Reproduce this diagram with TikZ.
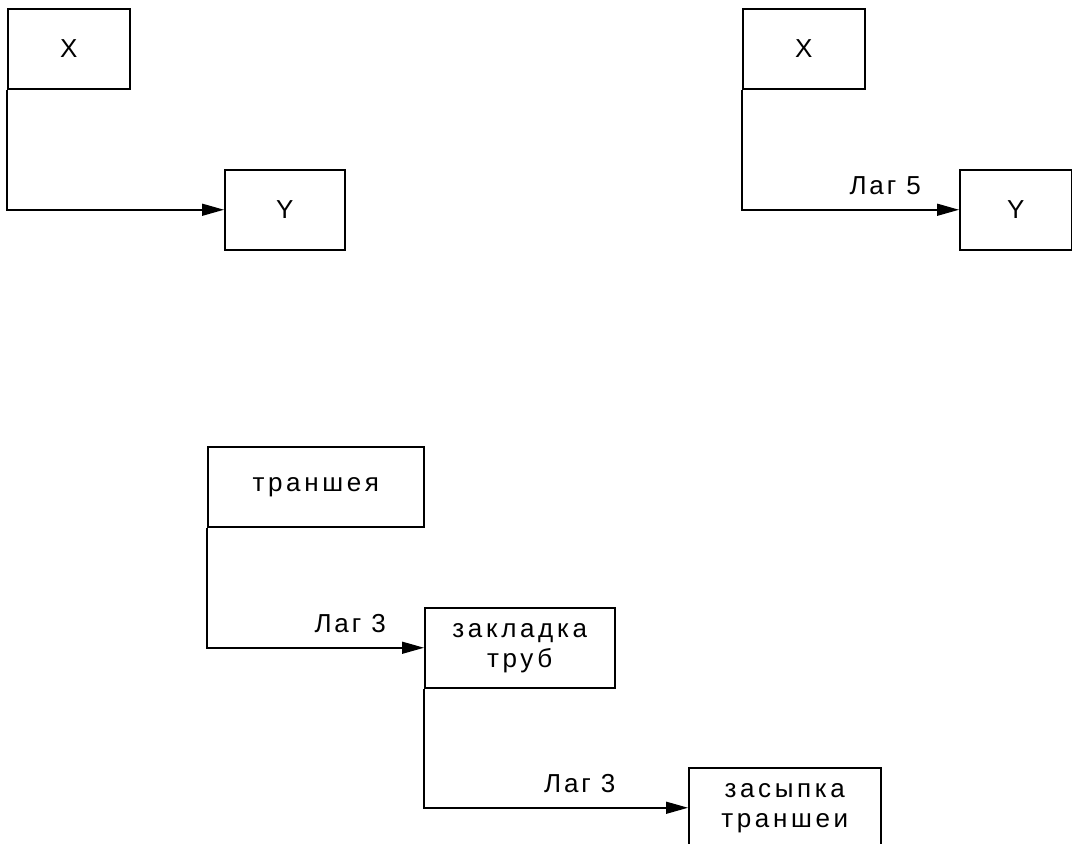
\documentclass[tikz,border=0pt]{standalone}
\usepackage{fontspec}
\setmainfont{Liberation Sans}
\usetikzlibrary{arrows.meta}
\usetikzlibrary{positioning}

\tikzset{
  box/.style={rectangle, draw, line width=1.5pt, anchor=north west, minimum height=80pt, inner sep=0pt, align=center, font=\fontsize{26}{30}\selectfont},
  spaced/.style={font=\fontsize{26}{30}\selectfont\addfontfeature{LetterSpace=14}},
  link/.style={line width=1.5pt, -{Triangle[length=22pt,width=12pt]}},
  lag/.style={above=14pt, inner sep=0pt, font=\fontsize{26}{30}\selectfont\addfontfeature{LetterSpace=11}}
}

\begin{document}
\begin{tikzpicture}[x=1pt, y=-1pt]
\useasboundingbox (0,0) rectangle (1072,844);

%without lag
\node [box, minimum width=122pt] (x1) at (7,8) {X};
\node [box, minimum width=120pt] (y1) at (224,169) {Y};
\draw [link] (x1.south west) |- (y1.west);

%with lag
\node [box, minimum width=122pt] (x2) at (742,8) {X};
\node [box, minimum width=112pt] (y2) at (959,169) {Y};
\draw [link] (x2.south west) |- node [lag, pos=0.83] {Лаг 5} (y2.west);

%works
\node [box, spaced, minimum width=216pt] (trench) at (207,446) {траншея};
\node [box, spaced, minimum width=190pt] (pipes) at (424,607) {закладка\\труб};
\node [box, spaced, minimum width=192pt] (fill) at (688,767) {засыпка\\траншеи};
\draw [link] (trench.south west) |- node [lag, pos=0.83] {Лаг 3} (pipes.west);
\draw [link] (pipes.south west) |- node [lag, pos=0.795] {Лаг 3} (fill.west);

\end{tikzpicture}
\end{document}
